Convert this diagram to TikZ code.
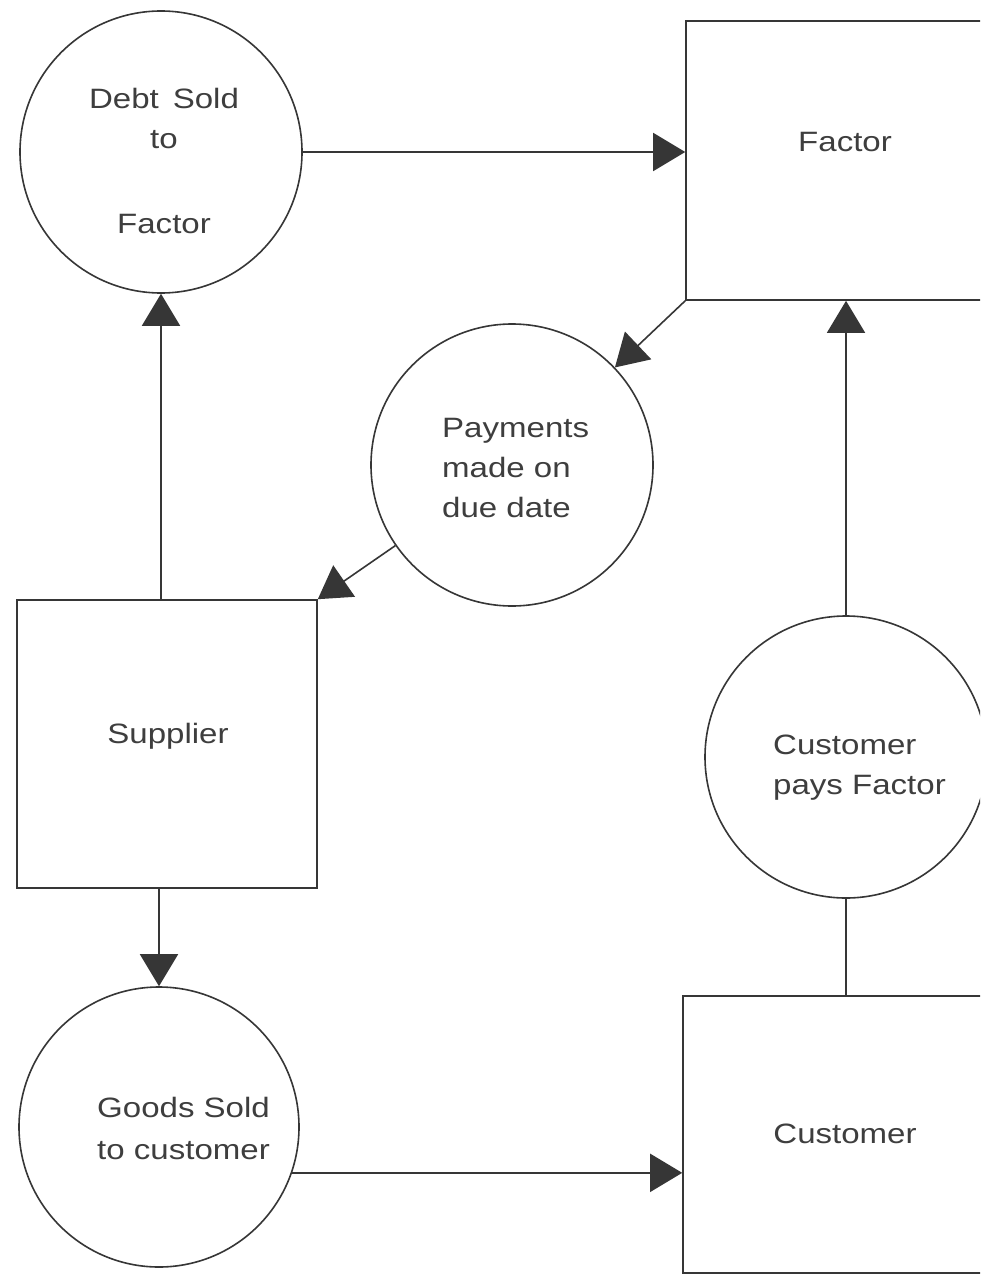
\documentclass[tikz,border=0pt]{standalone}
\usepackage{fontspec}
\setmainfont{Liberation Sans}[FakeStretch=1.18]
\usetikzlibrary{arrows.meta}
\definecolor{ink}{HTML}{363636}
\definecolor{txt}{HTML}{3E3E3E}
\begin{document}
\begin{tikzpicture}[x=1pt,y=-1pt,
  shapeline/.style={draw=ink, line width=1.6pt},
  proc/.style={shapeline, circle, inner sep=0pt, minimum size=282pt},
  entity/.style={shapeline, rectangle, inner sep=0pt},
  lbl/.style={text=txt, inner sep=0pt, font=\fontsize{28}{40}\selectfont},
  arr/.style={draw=ink, line width=1.6pt, -{Triangle[length=32pt,width=38pt]}},
  link/.style={draw=ink, line width=1.6pt}]
\useasboundingbox (0,0) rectangle (980,1276);
\fill[white] (0,0) rectangle (980,1276);
\clip (0,0) rectangle (980,1276);

% shapes
\node[proc] (debt) at (161,152) {};
\node[entity, minimum width=319pt, minimum height=279pt] (factor) at (845.5,160.5) {};
\node[proc] (pay) at (512,465) {};
\node[entity, minimum width=300pt, minimum height=288pt] (sup) at (167,744) {};
\node[proc, minimum size=282pt] (cpay) at (846,757) {};
\node[proc, minimum size=280pt] (goods) at (159,1127) {};
\node[entity, minimum width=325pt, minimum height=277pt] (cust) at (845.5,1134.5) {};

% labels
\node[lbl, align=center, anchor=north] (tdebt) at (164,88) {Debt\hspace{0.5em}Sold\\to\\[45pt]Factor};
\node[lbl, anchor=base] (tfactor) at (845,152) {Factor};
\node[lbl, align=left, anchor=north west] (tpay) at (442,418) {Payments\\made on\\due date};
\node[lbl, anchor=base] (tsup) at (168,743) {Supplier};
\node[lbl, align=left, anchor=north west] (tcpay) at (773,735) {Customer\\pays Factor};
\node[lbl, align=left, anchor=north west, font=\fontsize{28}{42}\selectfont] (tgoods) at (97,1097) {Goods Sold\\to customer};
\node[lbl, anchor=base] (tcust) at (845,1143) {Customer};

% connectors
\draw[arr] (debt.east) -- (debt.east -| factor.west);
\draw[arr] (factor.south west) -- (pay);
\draw[arr] (pay) -- (sup.north east);
\draw[arr] (debt.south |- sup.north) -- (debt.south);
\draw[arr] (goods.north |- sup.south) -- (goods.north);
\draw[arr] (goods.-19) -- (goods.-19 -| cust.west);
\draw[link] (cpay.south |- cust.north) -- (cpay.south);
\draw[arr] (cpay.north) -- (cpay.north |- factor.south);
\end{tikzpicture}
\end{document}
